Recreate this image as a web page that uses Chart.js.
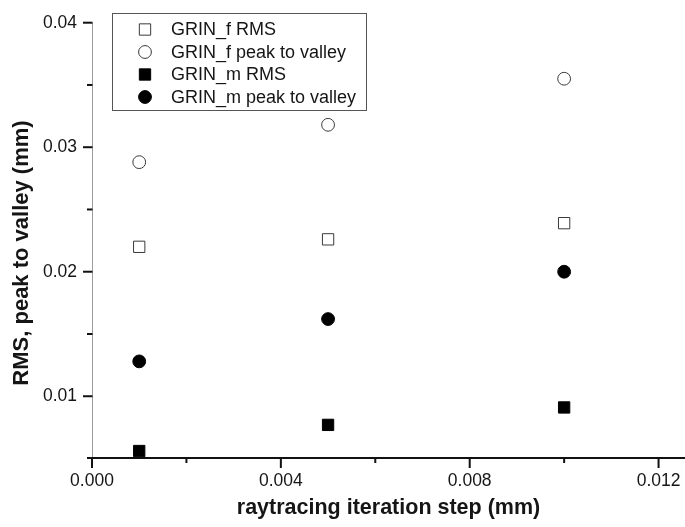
<!DOCTYPE html>
<html>
<head>
<meta charset="utf-8">
<script src="https://cdn.jsdelivr.net/npm/chart.js@4/dist/chart.umd.min.js"></script>
<style>
  html, body { margin: 0; padding: 0; background: #ffffff; }
  #wrap { width: 685px; height: 527px; }
</style>
</head>
<body>
<div id="wrap"><canvas id="c" width="685" height="527"></canvas></div>
<script>
// ---- data ----
const steps = [0.001, 0.005, 0.010];
const grinF_RMS = [0.0220, 0.0226, 0.0239];
const grinF_PV  = [0.0288, 0.0318, 0.0355];
const grinM_RMS = [0.0056, 0.0077, 0.0091];
const grinM_PV  = [0.0128, 0.0162, 0.0200];
const seriesNames = ['GRIN_f RMS', 'GRIN_f peak to valley', 'GRIN_m RMS', 'GRIN_m peak to valley'];
const xMajorTicks = [0.000, 0.004, 0.008, 0.012];
const xMinorTicks = [0.002, 0.006, 0.010];
const yMajorTicks = [0.01, 0.02, 0.03, 0.04];
const yMinorTicks = [0.015, 0.025, 0.035];
const xTitle = 'raytracing iteration step (mm)';
const yTitle = 'RMS, peak to valley (mm)';

const toPts = arr => steps.map((s, i) => ({x: s, y: arr[i]}));

const FONT = "'Liberation Sans', Arial, Helvetica, sans-serif";
const TXT = '#151515';

const styles = [
  {pointStyle: 'rect',   radius: 8,   bg: '#ffffff', border: '#3a3a3a'},
  {pointStyle: 'circle', radius: 6.4, bg: '#ffffff', border: '#3a3a3a'},
  {pointStyle: 'rect',   radius: 8,   bg: '#000000', border: '#000000'},
  {pointStyle: 'circle', radius: 6.4, bg: '#000000', border: '#000000'}
];
const seriesData = [grinF_RMS, grinF_PV, grinM_RMS, grinM_PV];

const datasets = seriesData.map((arr, i) => ({
  label: seriesNames[i],
  data: toPts(arr),
  pointStyle: styles[i].pointStyle,
  pointRadius: styles[i].radius,
  pointHoverRadius: styles[i].radius,
  backgroundColor: styles[i].bg,
  borderColor: styles[i].border,
  borderWidth: 1,
  showLine: false,
  clip: false
}));

const decor = {
  id: 'decor',
  beforeDatasetsDraw(chart) {
    const ctx = chart.ctx;
    const a = chart.chartArea;
    const xs = chart.scales.x, ys = chart.scales.y;
    ctx.save();
    // y axis line (gray, thin)
    ctx.strokeStyle = '#9c9c9c';
    ctx.lineWidth = 1;
    ctx.beginPath();
    ctx.moveTo(a.left + 0.5, a.top);
    ctx.lineTo(a.left + 0.5, a.bottom);
    ctx.stroke();
    // y ticks
    ctx.strokeStyle = '#111';
    ctx.lineWidth = 2;
    yMajorTicks.forEach(v => {
      const p = ys.getPixelForValue(v);
      ctx.beginPath(); ctx.moveTo(a.left - 9, p); ctx.lineTo(a.left + 0.5, p); ctx.stroke();
    });
    yMinorTicks.forEach(v => {
      const p = ys.getPixelForValue(v);
      ctx.beginPath(); ctx.moveTo(a.left - 5, p); ctx.lineTo(a.left + 0.5, p); ctx.stroke();
    });
    // x axis line (black, thicker, extends a bit left)
    ctx.strokeStyle = '#111';
    ctx.lineWidth = 2;
    ctx.beginPath();
    ctx.moveTo(a.left - 5, a.bottom);
    ctx.lineTo(a.right, a.bottom);
    ctx.stroke();
    xMajorTicks.forEach(v => {
      const p = xs.getPixelForValue(v);
      ctx.beginPath(); ctx.moveTo(p, a.bottom); ctx.lineTo(p, a.bottom + 10); ctx.stroke();
    });
    xMinorTicks.forEach(v => {
      const p = xs.getPixelForValue(v);
      ctx.beginPath(); ctx.moveTo(p, a.bottom); ctx.lineTo(p, a.bottom + 5); ctx.stroke();
    });
    ctx.restore();
  },
  afterDraw(chart) {
    const ctx = chart.ctx;
    ctx.save();
    // y axis title (rotated)
    ctx.save();
    ctx.translate(22, 253);
    ctx.rotate(-Math.PI / 2);
    ctx.font = 'bold 22px ' + FONT;
    ctx.fillStyle = TXT;
    ctx.textAlign = 'center';
    ctx.textBaseline = 'middle';
    ctx.fillText(yTitle, 0, 0);
    ctx.restore();
    // legend box
    const bx = 112.5, by = 13.5, bw = 254, bh = 97;
    ctx.fillStyle = '#ffffff';
    ctx.fillRect(bx, by, bw, bh);
    ctx.strokeStyle = '#555';
    ctx.lineWidth = 1;
    ctx.strokeRect(bx, by, bw, bh);
    const rowY = [29.5, 52, 74.5, 97];
    const symX = 145;
    ctx.font = '18px ' + FONT;
    ctx.textBaseline = 'middle';
    ctx.textAlign = 'left';
    seriesNames.forEach((name, i) => {
      const s = styles[i];
      const y = rowY[i];
      ctx.fillStyle = s.bg;
      ctx.strokeStyle = s.border;
      ctx.lineWidth = 1;
      ctx.beginPath();
      if (s.pointStyle === 'rect') {
        const h = s.radius * Math.SQRT1_2;
        ctx.rect(symX - h, y - h, 2 * h, 2 * h);
      } else {
        ctx.arc(symX, y, s.radius, 0, Math.PI * 2);
      }
      ctx.fill();
      ctx.stroke();
      ctx.fillStyle = TXT;
      ctx.fillText(name, 171, y + 1);
    });
    ctx.restore();
  }
};

new Chart(document.getElementById('c'), {
  type: 'scatter',
  data: { datasets },
  options: {
    responsive: false,
    animation: false,
    devicePixelRatio: 1,
    layout: { autoPadding: false, padding: { top: 22.7, right: 0, left: 0, bottom: 0 } },
    plugins: { legend: { display: false }, tooltip: { enabled: false } },
    scales: {
      x: {
        type: 'linear',
        min: 0,
        max: 0.01256,
        afterFit: s => { s.height = 69; s.paddingRight = 0; s.paddingLeft = 0; },
        afterBuildTicks: s => { s.ticks = xMajorTicks.map(v => ({value: v})); },
        grid: { display: false, drawTicks: false },
        border: { display: false },
        ticks: {
          padding: 13,
          color: TXT,
          font: { family: FONT, size: 17.5 },
          maxRotation: 0,
          autoSkip: false,
          callback: v => Number(v).toFixed(3)
        },
        title: {
          display: true,
          text: xTitle,
          color: TXT,
          font: { family: FONT, size: 21.5, weight: 'bold' },
          padding: { top: 0, bottom: 6 }
        }
      },
      y: {
        type: 'linear',
        min: 0.00504,
        max: 0.04,
        afterFit: s => { s.width = 92; s.paddingTop = 0; s.paddingBottom = 0; },
        afterBuildTicks: s => { s.ticks = yMajorTicks.map(v => ({value: v})); },
        grid: { display: false, drawTicks: false },
        border: { display: false },
        ticks: {
          padding: 15,
          color: TXT,
          font: { family: FONT, size: 17.5 },
          autoSkip: false,
          callback: v => Number(v).toFixed(2)
        },
        title: { display: false, text: yTitle }
      }
    }
  },
  plugins: [decor]
});
</script>
</body>
</html>
